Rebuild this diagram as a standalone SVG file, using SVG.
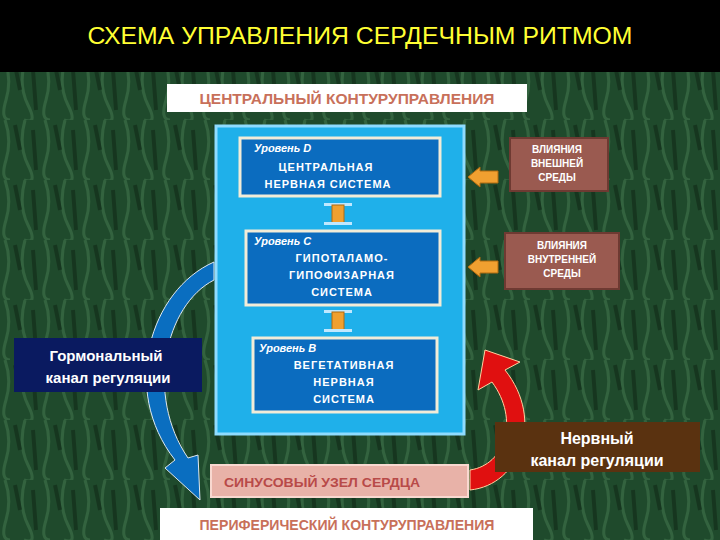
<svg xmlns="http://www.w3.org/2000/svg" width="720" height="540" viewBox="0 0 720 540">
<defs>
<pattern id="grn" width="40" height="60" patternUnits="userSpaceOnUse">
<rect width="40" height="60" fill="#1f4a2c"/>
<path d="M5 0 Q12 20 6 40 T10 60 M25 0 Q18 25 28 45 T24 60" stroke="#3c6e48" stroke-width="3" fill="none" opacity="0.7"/>
<path d="M15 5 L20 30 M33 10 L36 50" stroke="#16361f" stroke-width="4" fill="none"/>
</pattern>
<style>
.lvl{fill:#0b6cbf;stroke:#f2ecd8;stroke-width:3}
.t{font-family:"Liberation Sans",Arial,sans-serif;font-weight:bold}
.w{fill:#fff;font-size:11px;letter-spacing:1px}
.i{fill:#fff;font-size:11px;font-style:italic}
.br{fill:#9a5a50;stroke:#6e3a32;stroke-width:2}
.bt{fill:#fff;font-size:10px}
.oa{fill:#f0a030;stroke:#b06a10;stroke-width:1}
</style>
</defs>
<rect width="720" height="540" fill="url(#grn)"/>
<rect width="720" height="72" fill="#000"/>
<text x="360" y="44" text-anchor="middle" font-family="Liberation Sans, Arial, sans-serif" font-size="23" fill="#ffff33" textLength="545" lengthAdjust="spacingAndGlyphs">СХЕМА УПРАВЛЕНИЯ СЕРДЕЧНЫМ  РИТМОМ</text>
<g id="top-label"><rect x="167" y="84" width="360" height="28" fill="#fff"/>
<text class="t" x="347" y="104" text-anchor="middle" font-size="14" fill="#c8705a" textLength="295" lengthAdjust="spacingAndGlyphs">ЦЕНТРАЛЬНЫЙ КОНТУРУПРАВЛЕНИЯ</text></g>
<g id="connectors">
<path d="M214 262 C150 290 120 390 175 460 L165 468 L200 500 L198 455 L188 458 C145 395 165 305 214 280 Z" fill="#0a6ec0" stroke="#dfe8f0" stroke-width="1"/>
<path d="M470 470 L470 490 C520 485 545 420 505 370 L520 362 L485 350 L478 390 L492 382 C520 420 505 465 470 470 Z" fill="#e01010" stroke="#ffd0a0" stroke-width="1"/>
<path class="oa" d="M468 177 L480 167 L480 171 L498 171 L498 183 L480 183 L480 187 Z"/>
<path class="oa" d="M468 267 L480 257 L480 261 L498 261 L498 273 L480 273 L480 277 Z"/>
</g>
<g id="panel"><rect x="216" y="126" width="248" height="308" fill="#1fb0ea" stroke="#8fdcff" stroke-width="3"/></g>
<g id="levelD"><rect class="lvl" x="240" y="138" width="200" height="58"/>
<text class="t i" x="254" y="152">Уровень D</text>
<text class="t w" x="326" y="171" text-anchor="middle">ЦЕНТРАЛЬНАЯ</text>
<text class="t w" x="328" y="188" text-anchor="middle">НЕРВНАЯ  СИСТЕМА</text></g>
<g id="arr1"><rect x="324" y="203" width="28" height="3" fill="#bfe8ff"/><rect class="oa" x="332" y="205" width="12" height="18"/><rect x="324" y="222" width="28" height="3" fill="#bfe8ff"/></g>
<g id="levelC"><rect class="lvl" x="246" y="231" width="194" height="74"/>
<text class="t i" x="254" y="245">Уровень С</text>
<text class="t w" x="342" y="262" text-anchor="middle">ГИПОТАЛАМО-</text>
<text class="t w" x="342" y="279" text-anchor="middle">ГИПОФИЗАРНАЯ</text>
<text class="t w" x="342" y="296" text-anchor="middle">СИСТЕМА</text></g>
<g id="arr2"><rect x="324" y="310" width="28" height="3" fill="#bfe8ff"/><rect class="oa" x="332" y="312" width="12" height="18"/><rect x="324" y="329" width="28" height="3" fill="#bfe8ff"/></g>
<g id="levelB"><rect class="lvl" x="253" y="338" width="184" height="74"/>
<text class="t i" x="259" y="352">Уровень В</text>
<text class="t w" x="344" y="369" text-anchor="middle">ВЕГЕТАТИВНАЯ</text>
<text class="t w" x="344" y="386" text-anchor="middle">НЕРВНАЯ</text>
<text class="t w" x="344" y="403" text-anchor="middle">СИСТЕМА</text></g>
<g id="ext"><rect class="br" x="510" y="138" width="98" height="53"/>
<text class="t bt" x="557" y="153" text-anchor="middle">ВЛИЯНИЯ</text>
<text class="t bt" x="557" y="167" text-anchor="middle">ВНЕШНЕЙ</text>
<text class="t bt" x="557" y="181" text-anchor="middle">СРЕДЫ</text></g>
<g id="int"><rect class="br" x="505" y="233" width="114" height="56"/>
<text class="t bt" x="562" y="249" text-anchor="middle">ВЛИЯНИЯ</text>
<text class="t bt" x="562" y="263" text-anchor="middle">ВНУТРЕННЕЙ</text>
<text class="t bt" x="562" y="277" text-anchor="middle">СРЕДЫ</text></g>
<g id="hormonal"><rect x="14" y="338" width="188" height="54" fill="#0a1a60"/>
<text class="t" x="106" y="361" text-anchor="middle" font-size="15" fill="#fff">Гормональный</text>
<text class="t" x="108" y="383" text-anchor="middle" font-size="15" fill="#fff">канал регуляции</text></g>
<g id="nervous"><rect x="495" y="422" width="205" height="50" fill="#5a3210"/>
<text class="t" x="597" y="444" text-anchor="middle" font-size="16" fill="#fff">Нервный</text>
<text class="t" x="597" y="466" text-anchor="middle" font-size="16" fill="#fff">канал регуляции</text></g>
<g id="sinus"><rect x="211" y="465" width="257" height="32" fill="#e8b2a8" stroke="#f8d8d0" stroke-width="2"/>
<text class="t" x="322" y="487" text-anchor="middle" font-size="13" fill="#b84a48" textLength="196" lengthAdjust="spacingAndGlyphs">СИНУСОВЫЙ  УЗЕЛ  СЕРДЦА</text></g>
<g id="bottom-label"><rect x="160" y="508" width="373" height="32" fill="#fff"/>
<text class="t" x="347" y="530" text-anchor="middle" font-size="14" fill="#c8705a" textLength="295" lengthAdjust="spacingAndGlyphs">ПЕРИФЕРИЧЕСКИЙ КОНТУРУПРАВЛЕНИЯ</text></g>
</svg>
